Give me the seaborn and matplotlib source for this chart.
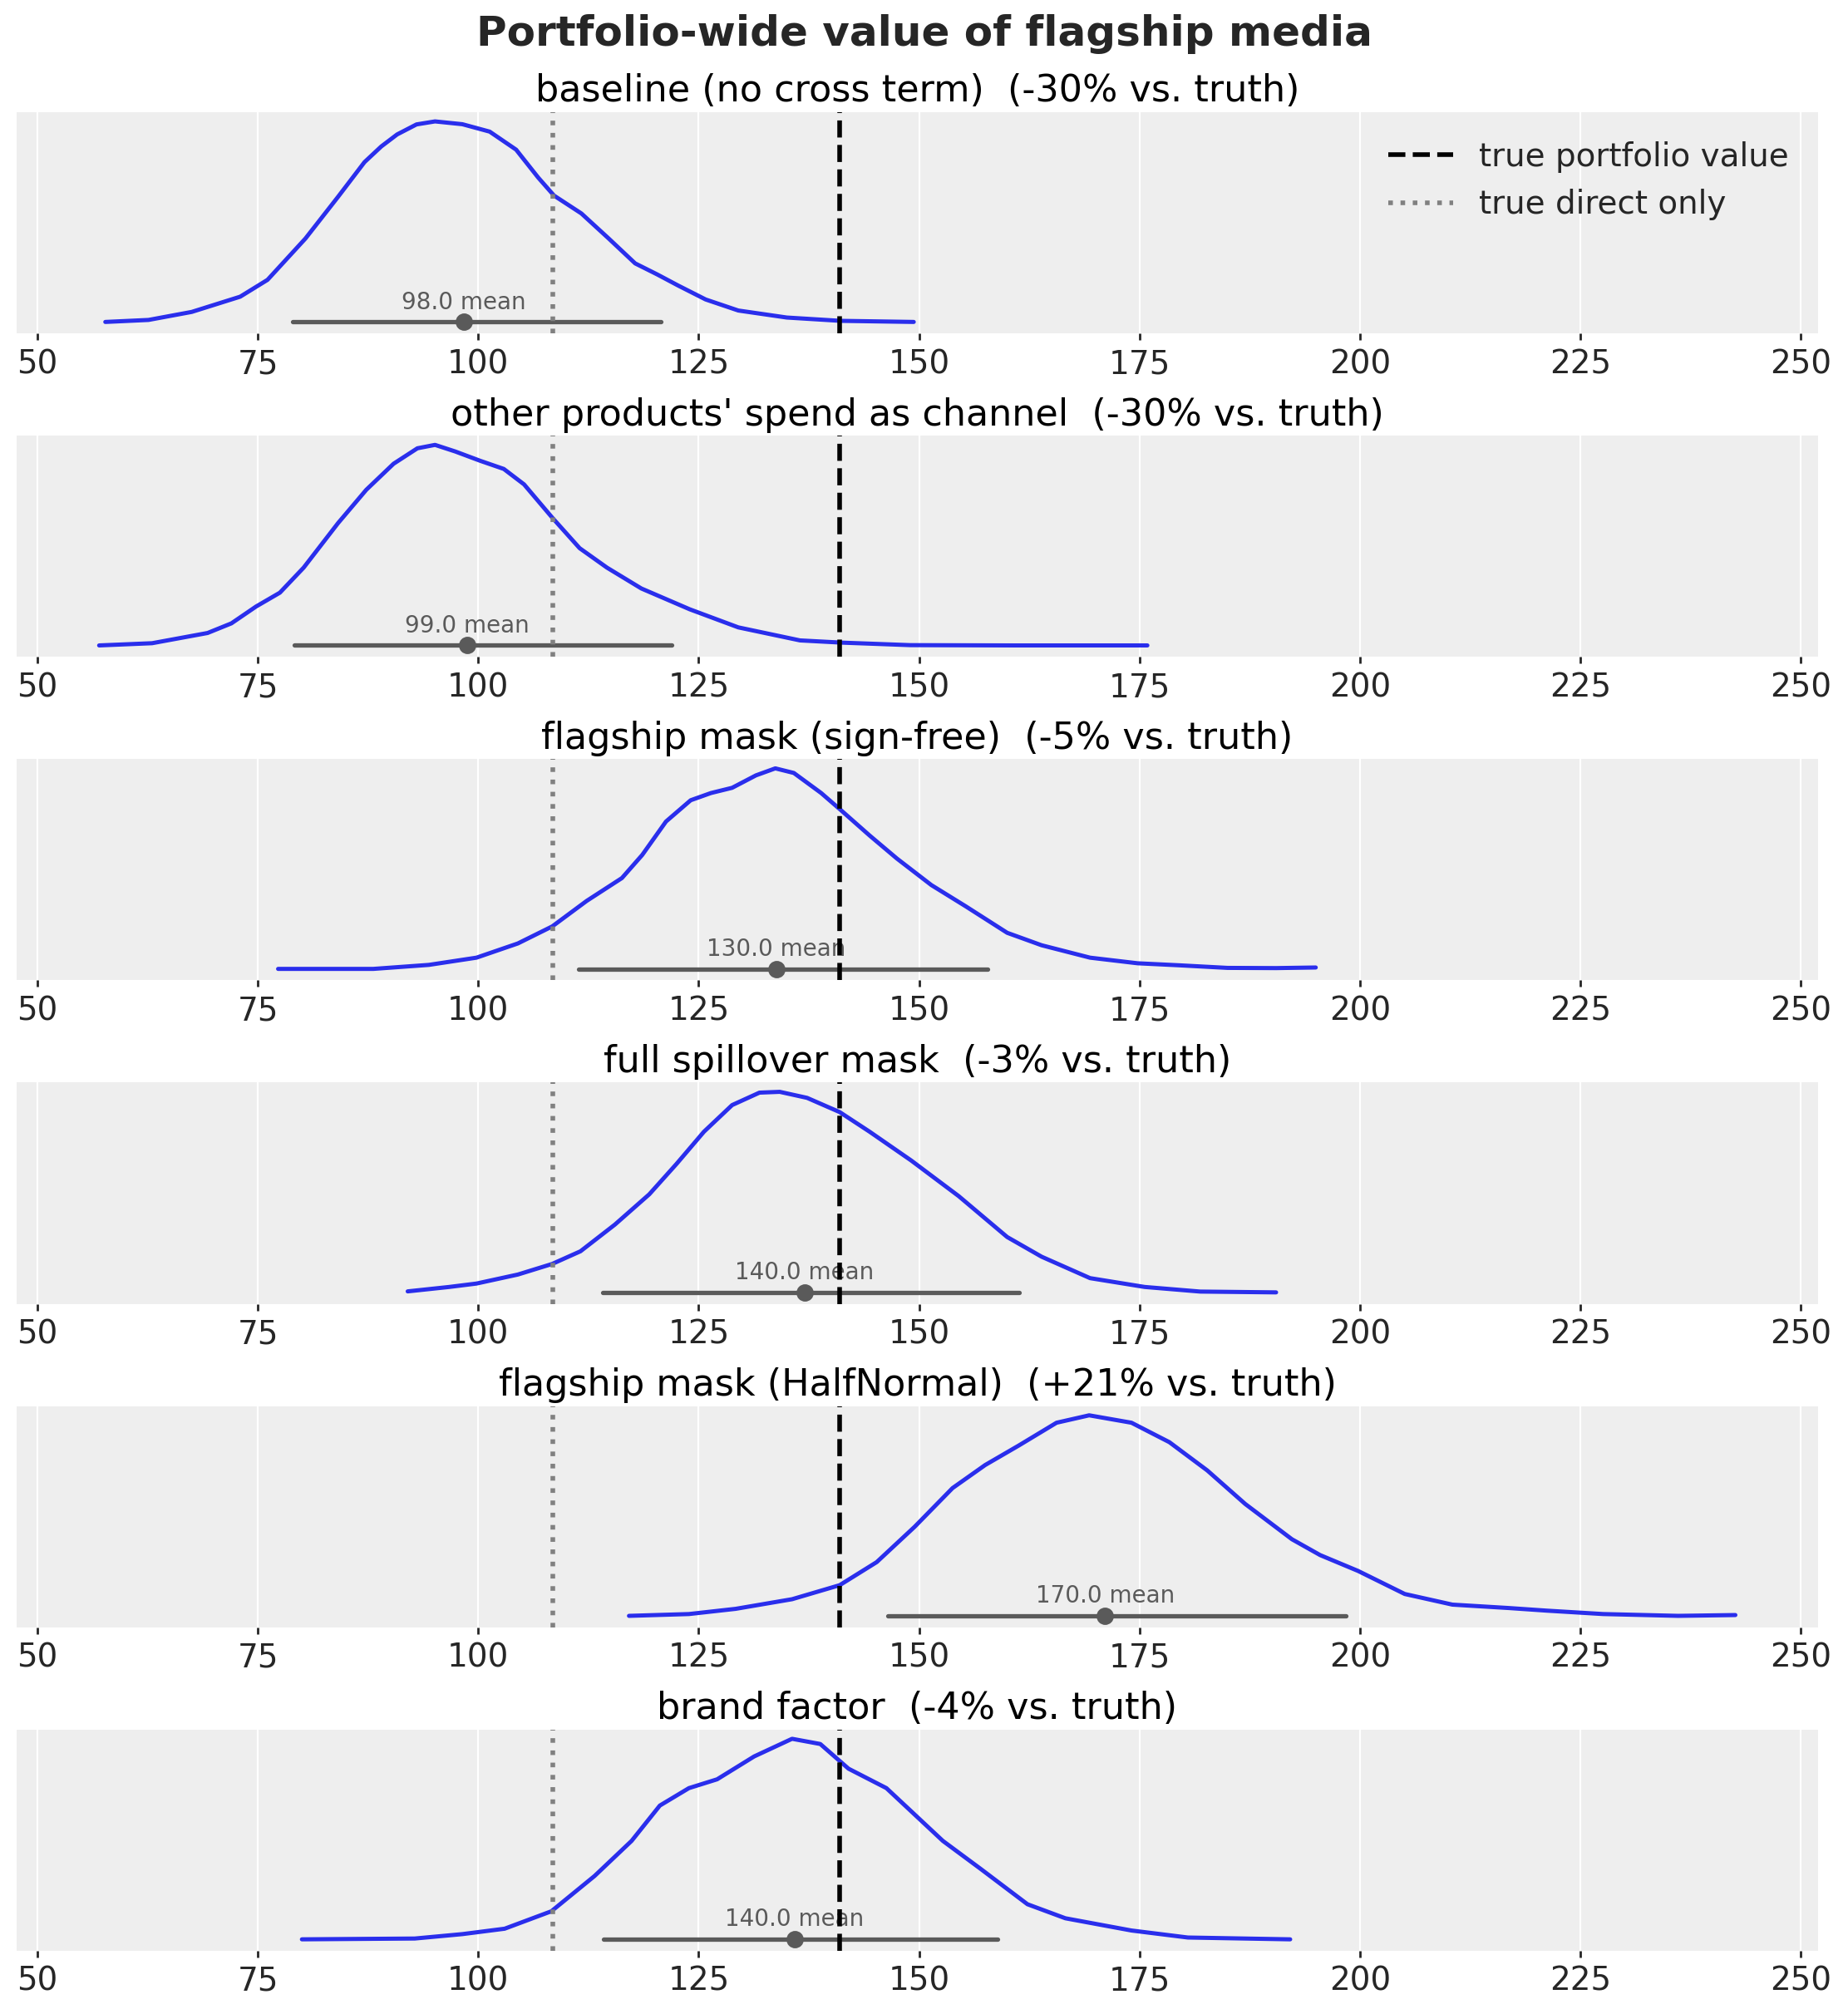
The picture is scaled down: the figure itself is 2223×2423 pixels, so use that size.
import numpy as np
import pandas as pd
import matplotlib
matplotlib.use("Agg")
import matplotlib.pyplot as plt
import seaborn as sns

# ---------------- data ----------------
panel_titles = [
    "baseline (no cross term)  (-30% vs. truth)",
    "other products' spend as channel  (-30% vs. truth)",
    "flagship mask (sign-free)  (-5% vs. truth)",
    "full spillover mask  (-3% vs. truth)",
    "flagship mask (HalfNormal)  (+21% vs. truth)",
    "brand factor  (-4% vs. truth)",
]

baseline_x = [57.7, 62.6, 67.5, 73.0, 76.1, 80.4, 84.1, 87.1, 89.0, 90.8, 93.0, 95.1, 98.2,
              101.3, 104.3, 106.8, 108.6, 111.7, 114.8, 117.8, 120.3, 122.7, 125.8,
              129.5, 135.0, 141.1, 149.4]
baseline_y = [0.0, 0.01, 0.05, 0.126, 0.21, 0.416, 0.624, 0.797, 0.875, 0.935, 0.985, 1.0, 0.986,
              0.949, 0.859, 0.72, 0.63, 0.541, 0.416, 0.292, 0.237, 0.181, 0.112,
              0.057, 0.022, 0.0055, 0.0]

other_x = [57.0, 63.0, 69.3, 72.0, 74.8, 77.5, 80.2, 84.1, 87.3, 90.4, 93.1, 95.1, 97.4,
           100.2, 102.9, 105.2, 108.4, 111.5, 114.6, 118.5, 124.0, 129.5, 136.5, 141.2,
           149.0, 160.7, 175.9]
other_y = [0.0, 0.011, 0.062, 0.11, 0.194, 0.263, 0.388, 0.61, 0.776, 0.906, 0.983, 1.0,
           0.967, 0.921, 0.88, 0.803, 0.637, 0.485, 0.388, 0.284, 0.18, 0.09, 0.025, 0.014,
           0.0014, 0.0, 0.0]

signfree_x = [77.3, 88.1, 94.4, 99.8, 104.5, 108.4, 112.3, 116.3, 118.6, 121.3, 124.1,
              126.4, 128.8, 131.5, 133.7, 135.8, 138.9, 141.0, 144.4, 147.5, 151.4, 155.3,
              160.0, 163.9, 169.4, 174.8, 179.5, 185.0, 190.5, 195.0]
signfree_y = [0.0, 0.0, 0.02, 0.056, 0.127, 0.212, 0.339, 0.453, 0.568, 0.735, 0.841,
              0.877, 0.903, 0.965, 1.0, 0.977, 0.877, 0.797, 0.665, 0.55, 0.418, 0.312,
              0.18, 0.118, 0.056, 0.028, 0.018, 0.005, 0.004, 0.007]

spill_x = [92.0, 96.7, 99.8, 104.5, 108.4, 111.6, 115.5, 119.4, 122.5, 125.6, 128.8,
           131.9, 134.2, 137.3, 141.0, 144.4, 149.1, 154.5, 160.0, 163.9, 169.4, 175.6,
           181.9, 190.5]
spill_y = [0.005, 0.027, 0.044, 0.089, 0.142, 0.205, 0.338, 0.489, 0.641, 0.801, 0.934,
           0.996, 1.0, 0.97, 0.899, 0.801, 0.658, 0.48, 0.276, 0.178, 0.071, 0.027,
           0.004, 0.0]

halfnormal_x = [117.1, 123.9, 129.2, 135.6, 141.0, 145.2, 149.5, 153.8, 157.5, 161.3,
                165.6, 169.3, 174.1, 178.4, 182.7, 187.0, 192.3, 195.5, 199.8, 205.1,
                210.5, 216.9, 221.2, 227.6, 236.1, 242.6]
halfnormal_y = [0.0, 0.009, 0.035, 0.083, 0.153, 0.268, 0.444, 0.637, 0.752, 0.849,
                0.963, 1.0, 0.963, 0.866, 0.725, 0.558, 0.382, 0.303, 0.224, 0.109,
                0.056, 0.039, 0.026, 0.009, 0.0, 0.004]

brand_x = [80.0, 92.8, 98.2, 103.0, 108.3, 113.2, 117.4, 120.6, 123.9, 127.1, 131.3,
           135.6, 138.8, 142.0, 146.3, 152.7, 157.0, 162.3, 166.6, 174.1, 180.5, 192.1]
brand_y = [0.0, 0.004, 0.026, 0.053, 0.14, 0.316, 0.491, 0.667, 0.754, 0.798, 0.912,
           1.0, 0.974, 0.851, 0.754, 0.491, 0.351, 0.175, 0.105, 0.044, 0.009, 0.0]

hdi_low = [78.9, 79.1, 111.4, 114.1, 146.5, 114.2]
hdi_high = [120.7, 121.9, 157.8, 161.4, 198.4, 158.9]
point_est = [98.4, 98.75, 133.8, 137.0, 171.1, 135.9]
point_labels = ["98.0 mean", "99.0 mean", "130.0 mean", "140.0 mean",
                "170.0 mean", "140.0 mean"]

true_portfolio_value = 141.0
true_direct_only = 108.5
x_ticks = [50, 75, 100, 125, 150, 175, 200, 225, 250]

curves = [(baseline_x, baseline_y), (other_x, other_y), (signfree_x, signfree_y),
          (spill_x, spill_y), (halfnormal_x, halfnormal_y), (brand_x, brand_y)]

# ---------------- style ----------------
sns.set_theme(style="darkgrid", rc={
    "axes.facecolor": "#eeeeee",
    "grid.color": "white",
    "grid.linewidth": 0.8,
    "axes.edgecolor": "#eeeeee",
    "text.color": "#262626",
    "xtick.color": "#262626",
})
plt.rcParams["font.family"] = ["DejaVu Sans"]

fig, axes = plt.subplots(6, 1, figsize=(11.115, 12.115), dpi=200)
fig.subplots_adjust(left=0.009, right=0.9838, top=0.9443, bottom=0.0314, hspace=0.4624)

curve_color = "#2a2eec"
for i, ax in enumerate(axes):
    cx, cy = curves[i]
    df = pd.DataFrame({"x": cx, "y": cy})
    sns.lineplot(data=df, x="x", y="y", ax=ax, color=curve_color, lw=1.8,
                 sort=False, estimator=None)
    ax.plot([hdi_low[i], hdi_high[i]], [0, 0], color="#5a5a5a", lw=1.9,
            solid_capstyle="round", zorder=3)
    ax.plot([point_est[i]], [0], "o", color="#5a5a5a", ms=6.5, zorder=4)
    ax.text(point_est[i], 0.065, point_labels[i], ha="center", va="baseline",
            fontsize=10, color="#5a5a5a", zorder=5)
    ax.axvline(true_portfolio_value, color="black", ls="--", lw=2.0,
               label="true portfolio value", zorder=6)
    ax.axvline(true_direct_only, color="gray", ls=":", lw=2.0,
               label="true direct only", zorder=6)
    ax.set_xlim(47.64, 251.98)
    ax.set_ylim(-0.057, 1.046)
    ax.set_xticks(x_ticks)
    ax.set_xticklabels([str(t) for t in x_ticks])
    ax.set_yticks([])
    ax.set_xlabel("")
    ax.set_ylabel("")
    ax.grid(axis="y", visible=False)
    ax.grid(axis="x", visible=True, color="white", lw=0.8)
    for s in ax.spines.values():
        s.set_visible(False)
    ax.tick_params(axis="x", which="major", bottom=True, length=3, width=1,
                   color="#262626", pad=3.5, labelsize=14)
    ax.set_title(panel_titles[i], fontsize=16, color="black", pad=4.5)
    if i == 0:
        ax.legend(loc="upper right", frameon=False, fontsize=14)

fig.suptitle("Portfolio-wide value of flagship media", fontsize=18,
             fontweight="bold", color="#262626", y=0.993, va="top")

fig.savefig("out.png", dpi=200)
